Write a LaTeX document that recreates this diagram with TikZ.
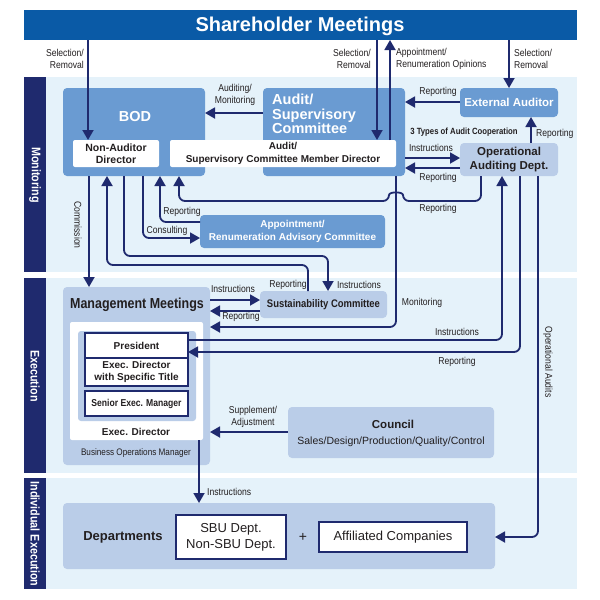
\documentclass[tikz,border=0pt]{standalone}
\usepackage{fontspec}
\setmainfont{Liberation Sans}
\newfontfamily\condfont[FakeStretch=0.86]{Liberation Sans}
\usetikzlibrary{arrows.meta}
\definecolor{navy}{RGB}{31,42,110}
\definecolor{shblue}{RGB}{10,90,166}
\definecolor{bandbg}{RGB}{229,242,250}
\definecolor{midblue}{RGB}{106,155,210}
\definecolor{paleblue}{RGB}{186,205,232}
\definecolor{ink}{RGB}{35,31,32}

\begin{document}
\begin{tikzpicture}[x=1pt, y=-1pt,
  box/.style={inner sep=0, outer sep=0, anchor=north west, rounded corners=4pt, align=center},
  midbox/.style={box, fill=midblue, text=white},
  palebox/.style={box, fill=paleblue, text=ink},
  whitebox/.style={box, fill=white, text=ink, rounded corners=2pt},
  framebox/.style={box, fill=white, text=ink, draw=navy, line width=1.3pt, rounded corners=0pt},
  flow/.style={navy, line width=1.8pt, rounded corners=6pt, -{Triangle[length=10pt,width=11pt]}},
  lbl/.style={font=\condfont\fontsize{10}{12.5}\selectfont, text=ink, inner sep=0, align=center},
  bandtxt/.style={text=white, font=\condfont\bfseries\fontsize{12.5}{14}\selectfont, rotate=-90}
]
\useasboundingbox (0,0) rectangle (600,600);
\fill[white] (0,0) rectangle (600,600);

% The bands
\fill[bandbg] (46,77) rectangle (577,272);
\fill[bandbg] (46,278) rectangle (577,473);
\fill[bandbg] (46,478) rectangle (577,589);
\fill[navy] (24,77) rectangle (46,272);
\fill[navy] (24,278) rectangle (46,473);
\fill[navy] (24,478) rectangle (46,589);
\node[bandtxt] (montxt) at (35,175) {Monitoring};
\node[bandtxt] (exetxt) at (35,376) {Execution};
\node[bandtxt] (indtxt) at (35,534) {Individual Execution};

% Shareholders
\node[box, fill=shblue, rounded corners=0pt, minimum width=553, minimum height=30] (sh) at (24,10) {};
\node[text=white, font=\bfseries\fontsize{20}{24}\selectfont] (shtxt) at (300,26) {Shareholder Meetings};

% Monitoring boxes
\node[midbox, minimum width=142, minimum height=88] (bod) at (63,88) {};
\node[text=white, font=\bfseries\fontsize{14.5}{16}\selectfont] (bodtxt) at (135,117) {BOD};
\node[midbox, minimum width=142, minimum height=88] (asc) at (263,88) {};
\node[text=white, font=\bfseries\fontsize{14.5}{14.5}\selectfont, align=left, anchor=west, inner sep=0] (asctxt) at (272,114) {Audit/\\Supervisory\\Committee};
\node[whitebox, minimum width=86, minimum height=27, font=\bfseries\fontsize{10.5}{12.5}\selectfont] (nad) at (73,140) {Non-Auditor\\Director};
\node[whitebox, minimum width=226, minimum height=27, font=\bfseries\fontsize{10}{12.5}\selectfont] (ascm) at (170,140) {Audit/\\Supervisory Committee Member Director};
\node[midbox, minimum width=98, minimum height=29, font=\bfseries\fontsize{11.5}{13}\selectfont] (ext) at (460,88) {External Auditor};
\node[palebox, minimum width=98, minimum height=33, font=\bfseries\fontsize{11.5}{14}\selectfont] (oad) at (460,143) {Operational\\Auditing Dept.};
\node[font=\condfont\bfseries\fontsize{9}{11}\selectfont, text=ink] (coop) at (464,132) {3 Types of Audit Cooperation};
\node[midbox, minimum width=185, minimum height=33, font=\bfseries\fontsize{10}{13}\selectfont] (arc) at (200,215) {Appointment/\\Renumeration Advisory Committee};

% Execution boxes
\node[palebox, minimum width=147, minimum height=178] (mm) at (63,287) {};
\node[text=ink, font=\condfont\bfseries\fontsize{14.5}{16}\selectfont] (mmtxt) at (137,305) {Management Meetings};
\node[whitebox, minimum width=133, minimum height=118] (ed) at (70,322) {};
\node[palebox, rounded corners=3pt, minimum width=118, minimum height=90] (edin) at (78,331) {};
\node[framebox, minimum width=103, minimum height=25, font=\bfseries\fontsize{10}{12}\selectfont] (pres) at (85,333) {President};
\node[framebox, minimum width=103, minimum height=28, font=\bfseries\fontsize{10}{11.7}\selectfont] (eds) at (85,358) {Exec. Director\\with Specific Title};
\node[framebox, minimum width=103, minimum height=25, font=\condfont\bfseries\fontsize{10}{12}\selectfont] (sem) at (85,391) {Senior Exec. Manager};
\node[text=ink, font=\bfseries\fontsize{10}{12}\selectfont] (edtxt) at (136,432) {Exec. Director};
\node[text=ink, font=\condfont\fontsize{9.5}{11}\selectfont] (bomtxt) at (136,453) {Business Operations Manager};
\node[palebox, minimum width=127, minimum height=27, font=\condfont\bfseries\fontsize{11}{13}\selectfont] (sus) at (260,291) {Sustainability Committee};
\node[palebox, minimum width=206, minimum height=51] (cou) at (288,407) {};
\node[text=ink, font=\bfseries\fontsize{11.5}{13}\selectfont] (coutxt) at (393,424) {Council};
\node[text=ink, font=\fontsize{10.5}{12}\selectfont] (cousub) at (391,442) {Sales/Design/Production/Quality/Control};

% Individual execution
\node[palebox, minimum width=432, minimum height=66] (dep) at (63,503) {};
\node[text=ink, font=\bfseries\fontsize{13}{15}\selectfont] (deptxt) at (123,537) {Departments};
\node[framebox, minimum width=110, minimum height=44, font=\fontsize{13}{16}\selectfont] (sbu) at (176,515) {SBU Dept.\\Non-SBU Dept.};
\node[text=ink, font=\fontsize{14}{16}\selectfont] (plus) at (303,537) {+};
\node[framebox, minimum width=148, minimum height=30, font=\fontsize{13}{15}\selectfont] (aff) at (319,522) {Affiliated Companies};

% Shareholder arrows
\draw[flow] (sh.south -| 88,0) -- (nad.north -| 88,0);
\node[lbl, align=right, anchor=east] (selrem1) at (84,59) {Selection/\\Removal};
\draw[flow] (sh.south -| 377,0) -- (ascm.north -| 377,0);
\node[lbl, align=right, anchor=east] (selrem2) at (371,59) {Selection/\\Removal};
\draw[flow] (ascm.north -| 390,0) -- (sh.south -| 390,0);
\node[lbl, align=left, anchor=west] (apprem) at (396,59) {Appointment/\\Renumeration Opinions};
\draw[flow] (sh.south -| 509,0) -- (ext.north -| 509,0);
\node[lbl, align=left, anchor=west] (selrem3) at (514,59) {Selection/\\Removal};

% Audit cooperation
\draw[flow] (ext.west |- 0,102) -- (asc.east |- 0,102);
\node[lbl] (rep1) at (438,92) {Reporting};
\draw[flow] (asc.west |- 0,113) -- (bod.east |- 0,113);
\node[lbl] (audmon) at (235,95) {Auditing/\\Monitoring};
\draw[flow] (asc.east |- 0,158) -- (oad.west |- 0,158);
\node[lbl] (ins1) at (431,148) {Instructions};
\draw[flow] (oad.west |- 0,168) -- (asc.east |- 0,168);
\node[lbl] (rep2) at (438,178) {Reporting};
\draw[flow] (oad.north -| 531,0) -- (ext.south -| 531,0);
\node[lbl, anchor=west] (rep3) at (536,134) {Reporting};

% Lines below the BOD
\draw[flow] (bod.south -| 89,0) -- (mm.north -| 89,0);
\node[lbl, rotate=-90] (comm) at (78,225) {Commission};
\draw[flow] (sus.north -| 308,0) -- (308,265) -- (107,265) -- (bod.south -| 107,0);
\node[lbl] (rep4) at (288,285) {Reporting};
\draw[flow] (bod.south -| 124,0) -- (124,256) -- (328,256) -- (sus.north -| 328,0);
\node[lbl] (ins2) at (359,285) {Instructions};
\draw[flow] (bod.south -| 143,0) -- (143,238) -- (arc.west |- 0,238);
\node[lbl] (cons) at (167,231) {Consulting};
\draw[flow] (arc.west |- 0,222) -- (160,222) -- (bod.south -| 160,0);
\node[lbl] (rep5) at (182,212) {Reporting};
\draw[flow] (oad.south -| 481,0) -- (481,201) -- (403,201) .. controls (403,191.5) and (389,191.5) .. (389,201) -- (179,201) -- (bod.south -| 179,0);
\node[lbl] (rep6) at (438,209) {Reporting};
\draw[flow] (asc.south -| 396,0) -- (396,327) -- (mm.east |- 0,327);
\node[lbl] (mon) at (422,303) {Monitoring};

% Operational auditing lines
\draw[flow] (pres.east |- 0,340) -- (502,340) -- (oad.south -| 502,0);
\node[lbl] (ins3) at (457,332) {Instructions};
\draw[flow] (oad.south -| 520,0) -- (520,352) -- (pres.east |- 0,352);
\node[lbl] (rep7) at (457,362) {Reporting};
\draw[flow] (oad.south -| 538,0) -- (538,537) -- (dep.east |- 0,537);
\node[lbl, rotate=-90] (opaud) at (548,362) {Operational Audits};

% Execution
\draw[flow] (mm.east |- 0,300) -- (sus.west |- 0,300);
\node[lbl] (ins4) at (233,289) {Instructions};
\draw[flow] (sus.west |- 0,311) -- (mm.east |- 0,311);
\node[lbl] (rep8) at (241,317) {Reporting};
\draw[flow] (cou.west |- 0,432) -- (mm.east |- 0,432);
\node[lbl] (supadj) at (253,417) {Supplement/\\Adjustment};
\draw[flow] (ed.south -| 199,0) -- (dep.north -| 199,0);
\node[lbl, anchor=west] (ins5) at (207,492) {Instructions};
\end{tikzpicture}
\end{document}
